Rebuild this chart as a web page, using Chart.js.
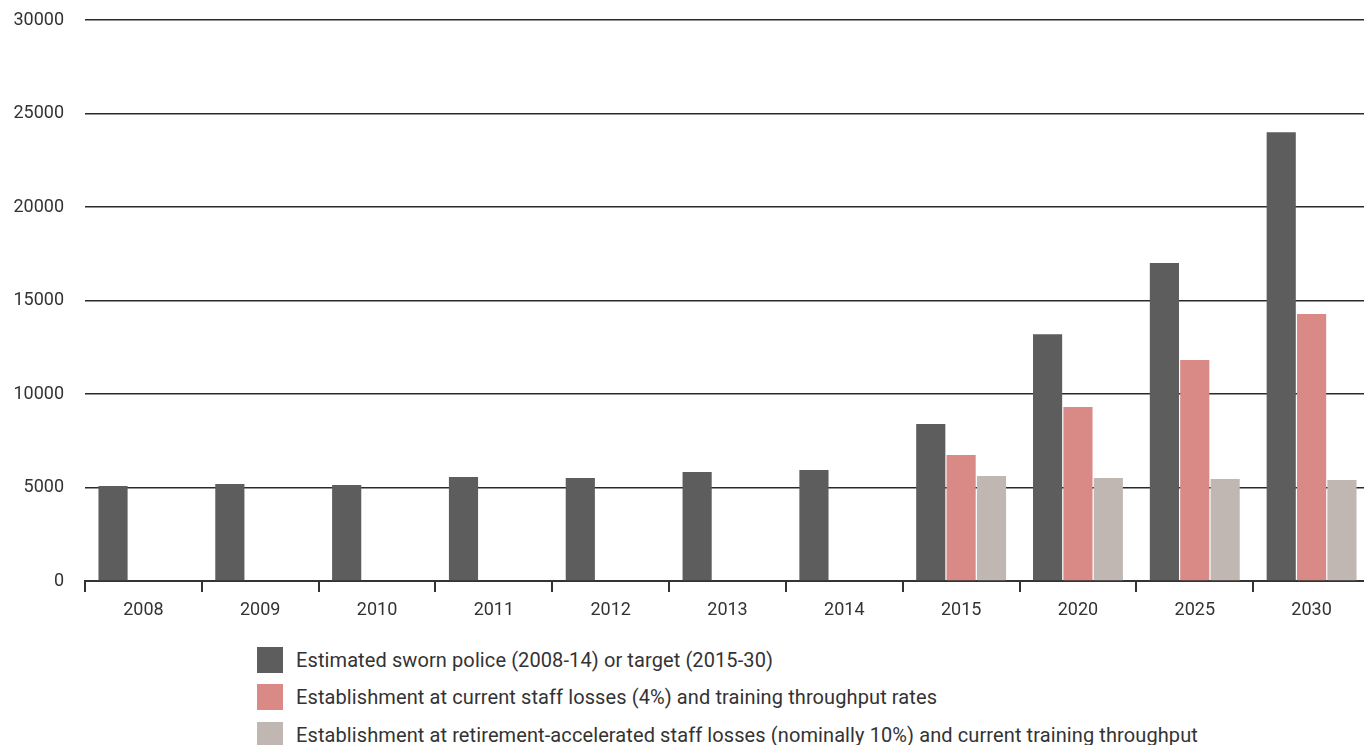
<!DOCTYPE html>
<html>
<head>
<meta charset="utf-8">
<script src="https://cdn.jsdelivr.net/npm/chart.js@4.4.1/dist/chart.umd.min.js"></script>
<style>
  html, body { margin: 0; padding: 0; background: #fff; overflow: hidden; }
  #wrap { position: relative; width: 1364px; height: 745px; overflow: hidden; }
  #box { position: absolute; left: 0; top: 0; width: 1370px; height: 640px; }
  #legend { position: absolute; left: 257px; top: 647px; font-family: Roboto, sans-serif; font-size: 20px; letter-spacing: 0.1px; color: #333; }
  #legend .row { display: flex; align-items: flex-start; height: 37.3px; }
  #legend .sw { width: 26px; height: 26px; margin-right: 13px; flex: none; }
  #legend .txt { line-height: 26px; white-space: nowrap; }
</style>
</head>
<body>
<div id="wrap">
  <div id="box"><canvas id="policeChart"></canvas></div>
  <div id="legend"></div>
</div>
<script>
// categories and series
const years = ['2008', '2009', '2010', '2011', '2012', '2013', '2014', '2015', '2020', '2025', '2030'];
const swornPolice = [5080, 5190, 5130, 5560, 5510, 5830, 5940, 8400, 13200, 17000, 24000];
const currentLosses = [0, 0, 0, 0, 0, 0, 0, 6740, 9300, 11820, 14280];
const retirementLosses = [0, 0, 0, 0, 0, 0, 0, 5610, 5510, 5450, 5400];
const yTicks = [0, 5000, 10000, 15000, 20000, 25000, 30000];

const seriesNames = [
  'Estimated sworn police (2008-14) or target (2015-30)',
  'Establishment at current staff losses (4%) and training throughput rates',
  'Establishment at retirement-accelerated staff losses (nominally 10%) and current training throughput'
];
const seriesColors = ['#5d5d5d', '#d98a87', '#c0b7b2'];

const ctx = document.getElementById('policeChart');
const policeChart = new Chart(ctx, {
  type: 'bar',
  data: {
    labels: years,
    datasets: [swornPolice, currentLosses, retirementLosses].map((d, i) => ({
      label: seriesNames[i],
      data: d,
      backgroundColor: seriesColors[i],
      borderWidth: 0,
      categoryPercentage: 0.78,
      barPercentage: 0.96
    }))
  },
  options: {
    responsive: true,
    maintainAspectRatio: false,
    animation: false,
    layout: { padding: { top: 20, left: 0, right: 0, bottom: 0 } },
    plugins: {
      legend: { display: false },
      tooltip: { enabled: false }
    },
    scales: {
      x: {
        grid: {
          drawOnChartArea: false,
          drawTicks: true,
          tickLength: 11,
          color: '#333',
          lineWidth: 2
        },
        border: { display: true, color: '#333', width: 2 },
        ticks: {
          color: '#333',
          padding: 8,
          font: { family: 'Roboto', size: 18 }
        },
        afterFit: (scale) => { scale.height = 59; }
      },
      y: {
        min: 0,
        max: 30000,
        afterBuildTicks: (scale) => { scale.ticks = yTicks.map(v => ({ value: v })); },
        grid: {
          color: '#2a2a2a',
          lineWidth: 1.5,
          drawTicks: false
        },
        border: { display: false },
        ticks: {
          color: '#333',
          padding: 21,
          font: { family: 'Roboto', size: 18 },
          callback: (v) => String(v)
        },
        afterFit: (scale) => {
          scale.width = 85;
          scale.paddingTop = 0;
          scale.paddingBottom = 0;
        }
      }
    }
  }
});

// legend below the chart, one entry per line
const legendEl = document.getElementById('legend');
policeChart.data.datasets.forEach((ds) => {
  const row = document.createElement('div');
  row.className = 'row';
  const sw = document.createElement('div');
  sw.className = 'sw';
  sw.style.background = ds.backgroundColor;
  const txt = document.createElement('div');
  txt.className = 'txt';
  txt.textContent = ds.label;
  row.appendChild(sw);
  row.appendChild(txt);
  legendEl.appendChild(row);
});
</script>
</body>
</html>
